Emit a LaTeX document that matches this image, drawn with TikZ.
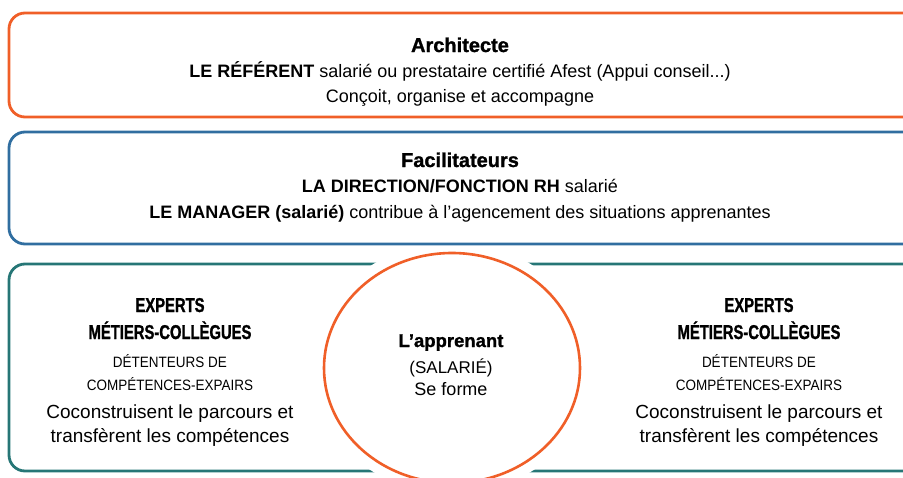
\documentclass[tikz,border=0pt]{standalone}
\usepackage{fontspec}
\setmainfont{Liberation Sans}
\newfontfamily\capsfont{Liberation Sans}[FakeStretch=0.74,BoldFeatures={FakeBold=1.2}]
\newfontfamily\heavyfont{Liberation Sans}[BoldFeatures={FakeBold=1.2}]
\newfontfamily\narrowfont{Liberation Sans}[FakeStretch=0.9]
\definecolor{orangeA}{RGB}{240,95,40}
\definecolor{blueA}{RGB}{48,110,160}
\definecolor{tealA}{RGB}{38,118,118}
\begin{document}
\begin{tikzpicture}[x=1pt,y=-1pt,
  frame/.style={line width=2.8pt,rounded corners=16pt},
  txt/.style={inner sep=0pt,anchor=base,text=black},
  body/.style={txt,font=\fontsize{18}{22}\selectfont},
  head/.style={txt,font=\fontsize{20}{24}\selectfont\heavyfont\bfseries},
  capshead/.style={txt,font=\fontsize{20}{24}\selectfont\capsfont\bfseries},
  small/.style={txt,font=\fontsize{15}{18}\selectfont\narrowfont},
  big/.style={txt,font=\fontsize{19}{23}\selectfont}]
\useasboundingbox (0,0) rectangle (903,477);
\clip (0,0) rectangle (903,477);
% frames
\draw[frame,draw=orangeA] (9,13) rectangle (935,117);
\draw[frame,draw=tealA] (9,264) rectangle (935,471);
% learner ellipse with white halo
\draw[white,fill=white,line width=22pt] (452,368) ellipse [x radius=128, y radius=115];
\draw[orangeA,line width=2.6pt,fill=white] (452,368) ellipse [x radius=128, y radius=115];
\draw[frame,draw=blueA] (9,132) rectangle (935,244);
% box 1
\node[head] (a1) at (460,52) {Architecte};
\node[body] (a2) at (460,77) {\textbf{LE RÉFÉRENT} salarié ou prestataire certifié Afest (Appui conseil...)};
\node[body] (a3) at (460,102) {Conçoit, organise et accompagne};
% box 2
\node[head] (f1) at (460,167) {Facilitateurs};
\node[body] (f2) at (460,192) {\textbf{LA DIRECTION/FONCTION RH} salarié};
\node[body] (f3) at (460,218) {\textbf{LE MANAGER (salarié)} contribue à l’agencement des situations apprenantes};
% left experts
\node[capshead] (l1) at (170,312) {EXPERTS};
\node[capshead] (l2) at (170,339) {MÉTIERS-COLLÈGUES};
\node[small] (l3) at (170,367) {DÉTENTEURS DE};
\node[small] (l4) at (170,390) {COMPÉTENCES-EXPAIRS};
\node[big] (l5) at (170,418) {Coconstruisent le parcours et};
\node[big] (l6) at (170,442) {transfèrent les compétences};
% right experts
\node[capshead] (r1) at (759,312) {EXPERTS};
\node[capshead] (r2) at (759,339) {MÉTIERS-COLLÈGUES};
\node[small] (r3) at (759,367) {DÉTENTEURS DE};
\node[small] (r4) at (759,390) {COMPÉTENCES-EXPAIRS};
\node[big] (r5) at (759,418) {Coconstruisent le parcours et};
\node[big] (r6) at (759,442) {transfèrent les compétences};
% learner
\node[txt,font=\fontsize{18.5}{22}\selectfont\heavyfont\bfseries] (c1) at (451,347) {L’apprenant};
\node[txt,font=\fontsize{17}{20}\selectfont] (c2) at (451,373) {(SALARIÉ)};
\node[txt,font=\fontsize{18}{22}\selectfont] (c3) at (451,395) {Se forme};
\end{tikzpicture}
\end{document}
